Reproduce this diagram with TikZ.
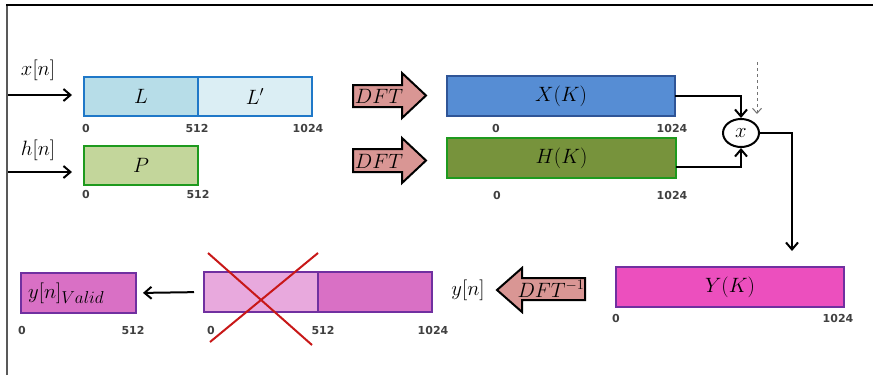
\documentclass[tikz,border=0pt]{standalone}
\usepackage{fontspec}
\newfontfamily\tickfont{DejaVu Sans}
\usetikzlibrary{arrows.meta,calc,shapes.geometric}

\definecolor{lfill}{HTML}{B7DDE8}
\definecolor{lpfill}{HTML}{DBEEF4}
\definecolor{bluedge}{HTML}{1F78C8}
\definecolor{pfill}{HTML}{C3D69B}
\definecolor{greenedge}{HTML}{1E9A1E}
\definecolor{xfill}{HTML}{568DD4}
\definecolor{xedge}{HTML}{2F5597}
\definecolor{hfill}{HTML}{77933C}
\definecolor{yfill}{HTML}{EC4FBE}
\definecolor{purpedge}{HTML}{7030A0}
\definecolor{orchid}{HTML}{D970C5}
\definecolor{lightorchid}{HTML}{E8A9DD}
\definecolor{dftfill}{HTML}{D99694}
\definecolor{crossred}{HTML}{C81818}

\tikzset{
  blk/.style={draw, line width=2pt, inner sep=0pt, outer sep=0pt,
    anchor=north west, font=\fontsize{22}{22}\selectfont},
  tick/.style={font=\tickfont\bfseries\fontsize{11}{11}\selectfont,
    text=black!75, inner sep=0pt},
  lbl/.style={font=\fontsize{22}{22}\selectfont, inner sep=0pt},
  flow/.style={-{Straight Barb[length=7pt,width=12pt,line width=2pt]},
    line width=2pt},
  blockarrow/.style={draw=black, line width=2pt, fill=dftfill,
    line join=miter},
  cross/.style={draw=crossred, line width=2pt},
}

\begin{document}
\begin{tikzpicture}[x=1pt,y=-1pt]
\useasboundingbox (0,0) rectangle (873,375);

% frame
\draw[line width=2pt, black!65] (7,375) -- (7,5);
\draw[line width=2pt] (6,5) -- (873,5);

% input sequences
\node[lbl] (xlab) at (38,70) {$x[n]$};
\node[lbl] (hlab) at (38,150) {$h[n]$};
\node[blk, fill=lfill, draw=bluedge, minimum width=114pt, minimum height=39pt] (xL) at (84,77) {$L$};
\node[blk, fill=lpfill, draw=bluedge, minimum width=114pt, minimum height=39pt] (xLp) at (198,77) {$L'$};
\node[blk, fill=pfill, draw=greenedge, minimum width=114pt, minimum height=39pt] (P) at (84,146) {$P$};

\coordinate (xin) at (8,95);
\coordinate (xend) at (72,95);
\coordinate (hin) at (8,172);
\coordinate (hend) at (72,172);
\draw[flow] (xin) -- (xend);
\draw[flow] (hin) -- (hend);

\node[tick] (t1) at (86,128) {0};
\node[tick] (t2) at (197,128) {512};
\node[tick] (t3) at (308,128) {1024};
\node[tick] (t4) at (86,194) {0};
\node[tick] (t5) at (198,194) {512};

% forward transforms
\draw[blockarrow] (353,85) -- (402,85) -- (402,73) -- (426,95.5) -- (402,118) -- (402,107) -- (353,107) -- cycle;
\node[lbl] (dft1) at (379,96) {$DFT$};
\draw[blockarrow] (353,149) -- (402,149) -- (402,138) -- (426,160.5) -- (402,183) -- (402,172) -- (353,172) -- cycle;
\node[lbl] (dft2) at (379,161) {$DFT$};

\node[blk, fill=xfill, draw=xedge, minimum width=228pt, minimum height=40pt] (X) at (447,76) {$X(K)$};
\node[blk, fill=hfill, draw=greenedge, minimum width=229pt, minimum height=40pt] (H) at (447,138) {$H(K)$};
\node[tick] (t6) at (496,128) {0};
\node[tick] (t7) at (672,128) {1024};
\node[tick] (t8) at (497,195) {0};
\node[tick] (t9) at (672,195) {1024};

% multiplication
\node[draw, ellipse, line width=2pt, minimum width=36pt, minimum height=28pt, inner sep=0pt,
  font=\fontsize{20}{20}\selectfont] (mul) at (741,133) {$x$};
\draw[flow] (X.east) -| (mul.north);
\draw[flow] ($(H.south east)+(0,-11)$) -| (mul.south);
\coordinate (dtop) at (757,62);
\coordinate (dend) at (757,114);
\draw[dashed, black!55, line width=1pt, -{Straight Barb[length=5pt,width=9pt]}] (dtop) -- (dend);
\coordinate (yin) at (792,251);
\draw[flow] (mul.east) -| (yin);

% product spectrum
\node[blk, fill=yfill, draw=purpedge, minimum width=228pt, minimum height=40pt] (Y) at (616,267) {$Y(K)$};
\node[tick] (t10) at (616,318) {0};
\node[tick] (t11) at (838,318) {1024};

% inverse transform
\draw[blockarrow] (585,278) -- (522,278) -- (522,268) -- (497,290) -- (522,312) -- (522,300) -- (585,300) -- cycle;
\node[lbl] (idft) at (551,289) {$DFT^{-1}$};
\node[lbl] (ylab) at (468,290) {$y[n]$};

% circular output and discarded half
\node[blk, fill=lightorchid, draw=purpedge, minimum width=114pt, minimum height=40pt] (yl) at (204,272) {};
\node[blk, fill=orchid, draw=purpedge, minimum width=114pt, minimum height=40pt] (yr) at (318,272) {};
\draw[cross] (208,253) -- (312,345);
\draw[cross] (318,253) -- (210,342);
\node[tick] (t12) at (211,330) {0};
\node[tick] (t13) at (323,330) {512};
\node[tick] (t14) at (433,330) {1024};

% valid samples
\node[blk, fill=orchid, draw=purpedge, minimum width=115pt, minimum height=40pt] (yv) at (21,273) {};
\node[lbl, anchor=west] (yvt) at (28,293) {$y[n]_{\mbox{\fontsize{17}{17}\selectfont$Valid$}}$};
\draw[flow, shorten <=10pt, shorten >=7pt] (yl.west) -- (yv.east);
\node[tick] (t15) at (22,330) {0};
\node[tick] (t16) at (133,330) {512};
\end{tikzpicture}
\end{document}
